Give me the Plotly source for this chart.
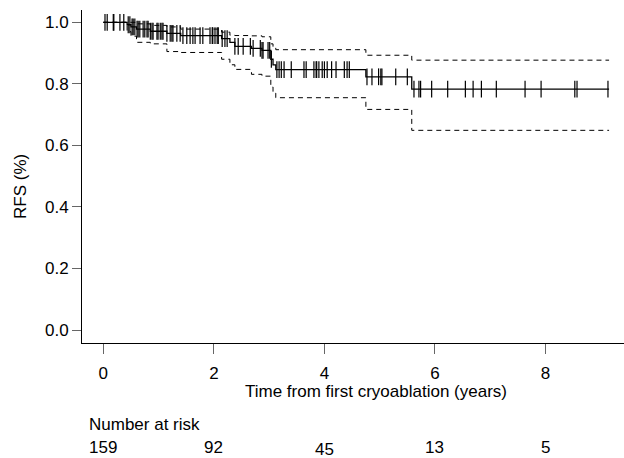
import numpy as np
import plotly.graph_objects as go

# ---- data ----
event_times = [0.43, 0.50, 0.60, 0.85, 1.15, 1.40, 2.14, 2.29, 2.38, 2.68, 2.87, 3.03, 3.07, 3.12, 4.75, 5.58]
surv        = [0.992, 0.985, 0.978, 0.971, 0.964, 0.957, 0.947, 0.935, 0.922, 0.915, 0.909, 0.880, 0.862, 0.846, 0.823, 0.783]
upper_ci    = [1.000, 1.000, 0.995, 0.990, 0.985, 0.978, 0.968, 0.958, 0.957, 0.956, 0.953, 0.930, 0.920, 0.911, 0.893, 0.877]
lower_ci    = [0.970, 0.955, 0.935, 0.930, 0.905, 0.902, 0.880, 0.862, 0.847, 0.831, 0.825, 0.790, 0.770, 0.755, 0.717, 0.649]
end_time = 9.15

censor_times = [0.03, 0.07, 0.18, 0.19, 0.30, 0.37, 0.45, 0.48,
                0.52, 0.54, 0.57, 0.61, 0.63, 0.66, 0.72, 0.75, 0.79, 0.81, 0.85, 0.88, 0.90,
                0.97, 0.99, 1.03, 1.06, 1.08, 1.15, 1.21, 1.24, 1.26, 1.33, 1.39, 1.44, 1.51,
                1.57, 1.62, 1.66, 1.75, 1.80, 1.93, 1.97, 1.98, 2.02, 2.06,
                2.08, 2.15, 2.20, 2.24, 2.38, 2.44, 2.53, 2.66, 2.71, 2.84, 2.87, 2.89,
                2.98, 3.01, 3.04,
                3.14, 3.18, 3.22, 3.27, 3.40, 3.63, 3.67, 3.81, 3.85, 3.86, 3.90, 3.96, 4.00,
                4.05, 4.13, 4.21, 4.36, 4.41, 4.45,
                4.77, 4.86, 4.98, 5.02, 5.04, 5.29, 5.50,
                5.62, 5.71, 5.74, 5.94, 6.23, 6.55, 6.69, 6.84, 7.11, 7.63, 7.92, 8.53, 8.57, 9.13]

risk_times = [0, 2, 4, 6, 8]
risk_counts = [159, 92, 45, 13, 5]
y_ticks = [0.0, 0.2, 0.4, 0.6, 0.8, 1.0]
x_ticks = [0, 2, 4, 6, 8]

# ---- build step curves ----
def steps(vals):
    return [0.0] + event_times + [end_time], [1.0] + vals + [vals[-1]]

sx, sy = steps(surv)
ux, uy = steps(upper_ci)
lx, ly = steps(lower_ci)

ev = np.array(event_times)
sv = np.array([1.0] + surv)
ct = np.array(censor_times)
cy = sv[np.searchsorted(ev, ct, side="right")]

fig = go.Figure()
dash = "5px,4px"
fig.add_trace(go.Scatter(x=ux, y=uy, mode="lines", line=dict(color="black", width=1, dash=dash, shape="hv"),
                         hoverinfo="skip", showlegend=False))
fig.add_trace(go.Scatter(x=lx, y=ly, mode="lines", line=dict(color="black", width=1, dash=dash, shape="hv"),
                         hoverinfo="skip", showlegend=False))
fig.add_trace(go.Scatter(x=sx, y=sy, mode="lines", line=dict(color="black", width=1.3, shape="hv"),
                         showlegend=False))
fig.add_trace(go.Scatter(x=ct, y=cy, mode="markers",
                         marker=dict(symbol="line-ns", size=12, line=dict(color="black", width=1.2)),
                         showlegend=False))

font_family = "Liberation Sans, Arial, sans-serif"
fs = 17

W, H = 624, 458
L, R, T, B = 82, 0, 10, 115
pw, ph = W - L - R, H - T - B

def px_x(px):
    return (px - L) / pw

def px_y(py):
    return (H - B - py) / ph

annotations = [
    dict(text="RFS (%)", x=px_x(20), y=px_y(187), xref="paper", yref="paper", textangle=-90,
         showarrow=False, xanchor="center", yanchor="middle", font=dict(size=fs)),
    dict(text="Time from first cryoablation (years)", x=px_x(376), y=px_y(392), xref="paper", yref="paper",
         showarrow=False, xanchor="center", yanchor="middle", font=dict(size=fs)),
    dict(text="Number at risk", x=px_x(87), y=px_y(424), xref="paper", yref="paper",
         showarrow=False, xanchor="left", yanchor="middle", font=dict(size=fs)),
]
for t, n in zip(risk_times, risk_counts):
    annotations.append(dict(text=str(n), x=t, y=px_y(449 if n == 45 else 447), xref="x", yref="paper",
                            showarrow=False, xanchor="center", yanchor="middle", font=dict(size=fs)))

fig.update_layout(
    width=W, height=H,
    margin=dict(l=L, r=R, t=T, b=B),
    paper_bgcolor="white", plot_bgcolor="white",
    font=dict(family=font_family, size=fs, color="black"),
    annotations=annotations,
    xaxis=dict(range=[-0.386, 9.42], tickvals=x_ticks, ticks="outside", ticklen=10, tickwidth=1,
               tickcolor="#666666", showline=True, linecolor="black", linewidth=1,
               showgrid=False, zeroline=False, tickfont=dict(size=fs), ticklabelstandoff=5),
    yaxis=dict(range=[-0.042, 1.040], tickvals=y_ticks, tickformat=".1f", ticks="outside", ticklen=9,
               tickwidth=1, tickcolor="#666666", showline=True, linecolor="black", linewidth=1,
               showgrid=False, zeroline=False, tickfont=dict(size=fs)),
)

fig.write_html("out.html",
               config={"displayModeBar": False},
               post_script="document.body.style.margin='0';document.body.style.padding='0';"
                           "document.body.style.overflow='hidden';")
